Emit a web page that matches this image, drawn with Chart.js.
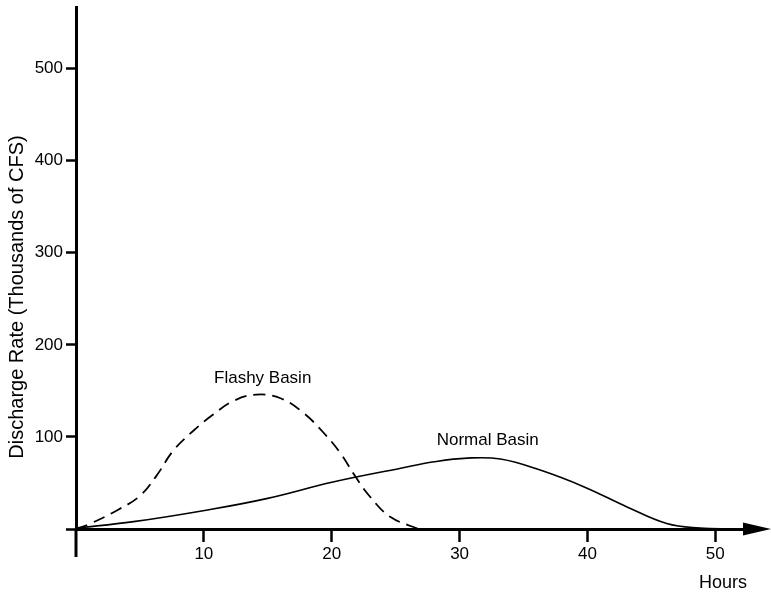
<!DOCTYPE html>
<html>
<head>
<meta charset="utf-8">
<script src="https://cdn.jsdelivr.net/npm/chart.js@4.4.1/dist/chart.umd.min.js"></script>
<style>
  html, body { margin: 0; background: #fff; }
  #wrap { width: 771px; height: 592px; position: relative; }
</style>
</head>
<body>
<div id="wrap"><canvas id="hydrograph"></canvas></div>
<script>
// hydrograph values (hours, thousands of CFS)
const flashyHours = [0, 1, 3.3, 5, 6.3, 7.6, 9.2, 10.7, 12.3, 14.1, 16, 17.8, 19.4, 20.7, 21.8, 23, 24.6, 26.8];
const flashyRate  = [0, 5, 21, 36, 58, 85, 107, 124, 139, 146, 142, 126, 104, 82, 58, 35, 13, 0];
const normalHours = [0, 4.5, 10.4, 14.9, 20.1, 25.4, 28, 30.6, 33.2, 36.3, 39.7, 43.1, 46.2, 48.8, 51.4];
const normalRate  = [1, 8, 21, 33, 51, 66, 73, 77, 76, 64, 46, 24, 6, 1, 0];
const hourTicks = [10, 20, 30, 40, 50];
const rateTicks = [0, 100, 200, 300, 400, 500];

const FONT = '"Liberation Sans", Arial, Helvetica, sans-serif';
const toPoints = (xs, ys) => xs.map((h, i) => ({ x: h, y: ys[i] }));

// axis extension, arrow head and the free text labels
const extras = {
  id: 'extras',
  afterDraw(chart) {
    const { ctx, scales: { x, y } } = chart;
    const x0 = x.getPixelForValue(0);
    const y0 = y.getPixelForValue(0);
    ctx.save();
    ctx.strokeStyle = '#000';
    ctx.fillStyle = '#000';
    ctx.lineWidth = 3;
    ctx.beginPath();
    ctx.moveTo(x0, y.bottom);
    ctx.lineTo(x0, y.bottom + 28);
    ctx.stroke();

    ctx.beginPath();
    ctx.moveTo(x.right - 3, y0 - 6.5);
    ctx.lineTo(x.right + 25, y0);
    ctx.lineTo(x.right - 3, y0 + 6.5);
    ctx.closePath();
    ctx.fill();

    ctx.textAlign = 'center';
    ctx.textBaseline = 'middle';
    ctx.font = '17px ' + FONT;
    ctx.fillText('Flashy Basin', x.getPixelForValue(14.6), y.getPixelForValue(164));
    ctx.fillText('Normal Basin', x.getPixelForValue(32.2), y.getPixelForValue(96.5));
    ctx.font = '18px ' + FONT;
    ctx.fillText('Hours', x.getPixelForValue(50.6), y.getPixelForValue(-58.5));

    ctx.translate(17, 297);
    ctx.rotate(-Math.PI / 2);
    ctx.font = '20px ' + FONT;
    ctx.fillText('Discharge Rate (Thousands of CFS)', 0, 0);
    ctx.restore();
  }
};

new Chart(document.getElementById('hydrograph'), {
  type: 'line',
  data: {
    datasets: [
      {
        label: 'Flashy Basin',
        data: toPoints(flashyHours, flashyRate),
        borderColor: '#000',
        borderWidth: 1.8,
        borderDash: [12, 7],
        tension: 0.4,
        pointRadius: 0,
        clip: false
      },
      {
        label: 'Normal Basin',
        data: toPoints(normalHours, normalRate),
        borderColor: '#000',
        borderWidth: 1.6,
        tension: 0.4,
        pointRadius: 0,
        clip: false
      }
    ]
  },
  options: {
    responsive: true,
    maintainAspectRatio: false,
    animation: false,
    layout: { padding: { left: 0, top: 7, right: 25, bottom: 0 } },
    plugins: { legend: { display: false }, tooltip: { enabled: false } },
    scales: {
      x: {
        type: 'linear',
        min: 0,
        max: 52.4,
        afterBuildTicks: s => { s.ticks = hourTicks.map(v => ({ value: v })); },
        afterFit: s => { s.height = 63; s.paddingLeft = 0; s.paddingRight = 0; },
        border: { display: true, color: '#000', width: 3 },
        grid: { drawOnChartArea: false, drawTicks: true, tickLength: 13, tickWidth: 2.5, tickColor: '#000' },
        ticks: { color: '#000', padding: 2, font: { family: FONT, size: 17 }, maxRotation: 0 }
      },
      y: {
        min: 0,
        max: 567,
        afterBuildTicks: s => { s.ticks = rateTicks.map(v => ({ value: v })); },
        afterFit: s => { s.width = 76; s.paddingTop = 0; s.paddingBottom = 0; },
        border: { display: true, color: '#000', width: 3 },
        grid: { drawOnChartArea: false, drawTicks: true, tickLength: 10, tickWidth: 2.5, tickColor: '#000' },
        ticks: {
          color: '#000',
          padding: 3,
          font: { family: FONT, size: 17 },
          callback: v => (v === 0 ? '' : v)
        }
      }
    }
  },
  plugins: [extras]
});
</script>
</body>
</html>
